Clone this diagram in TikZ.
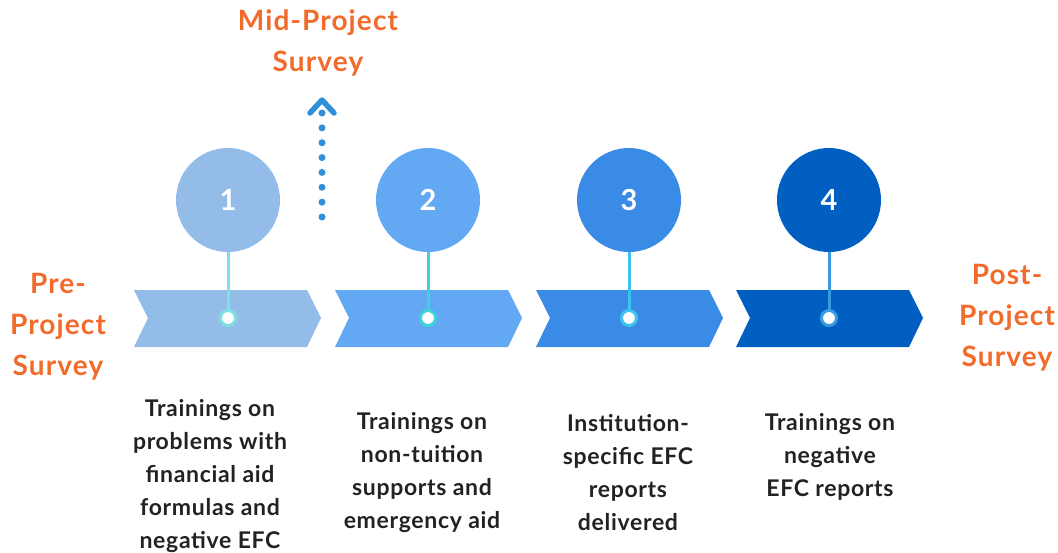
\documentclass[tikz,border=0pt]{standalone}
\usepackage{fontspec}
\setmainfont{Lato}
\usetikzlibrary{calc}
\definecolor{cA}{HTML}{93BCE8}
\definecolor{cB}{HTML}{62A8F3}
\definecolor{cC}{HTML}{398BE6}
\definecolor{cD}{HTML}{025FC2}
\definecolor{sA}{HTML}{7FE0E4}
\definecolor{sB}{HTML}{3DD4D8}
\definecolor{sC}{HTML}{3CC4EE}
\definecolor{sD}{HTML}{3A9BE0}
\definecolor{orangelbl}{HTML}{F26B2A}
\definecolor{midblue}{HTML}{2F8FD9}
\definecolor{txt}{HTML}{222222}
\tikzset{
  numcircle/.style={circle, inner sep=0pt, minimum size=104pt, text=white,
    font=\fontsize{29}{29}\selectfont\bfseries},
  tdot/.style={circle, fill=white, line width=3pt, minimum size=15pt, inner sep=0pt},
  stemline/.style={line width=3pt},
  surveylbl/.style={align=center, text=orangelbl, inner sep=0pt,
    font=\fontsize{28}{41}\selectfont\bfseries\addfontfeature{LetterSpace=4}},
  desc/.style={align=center, text=txt, inner sep=0pt,
    font=\fontsize{23}{33}\selectfont\bfseries\addfontfeature{LetterSpace=3}}
}
\begin{document}
\begin{tikzpicture}[x=1pt,y=-1pt]
\useasboundingbox (0,0) rectangle (1058,552);
% chevrons, circles, stems, dots
\foreach \i/\L/\cx/\col/\stc in {1/134/228/cA/sA, 2/335/428/cB/sB, 3/536/629/cC/sC, 4/736/829/cD/sD}{
  \fill[\col] (\L,290) -- ++(173,0) -- ++(14,28) -- ++(-14,29) -- ++(-173,0) -- ++(14,-29) -- cycle;
  \node[numcircle, fill=\col] (c\i) at (\cx,200) {\i};
  \node[tdot, draw=\stc] (d\i) at (\cx,318) {};
  \draw[stemline, \stc] (c\i.south) -- (d\i.north);
}
% survey labels
\node[surveylbl] (mid) at (318,43) {Mid-Project\\Survey};
\node[surveylbl] (pre) at (58,327) {Pre-\\Project\\Survey};
\node[surveylbl] (post) at (1007,318) {Post-\\Project\\Survey};
% mid-project dotted arrow
\coordinate (abase) at (322,217);
\coordinate (atop) at (322,113);
\coordinate (atip) at (322,100);
\draw[midblue, line width=7pt, line cap=round, dash pattern=on 0pt off 14.857pt] (abase) -- (atop);
\draw[midblue, line width=5.5pt, line cap=round, line join=round]
  ($(atip)+(-12,13)$) -- (atip) -- ($(atip)+(12,13)$);
% descriptions
\node[desc] (t1) at (210,476) {Trainings on\\problems with\\financial aid\\formulas and\\negative EFC};
\node[desc] (t2) at (422,473) {Trainings on\\non-tuition\\supports and\\emergency aid};
\node[desc] (t3) at (628,473) {Institution-\\specific EFC\\reports\\delivered};
\node[desc] (t4) at (830,457) {Trainings on\\negative\\EFC reports};
\end{tikzpicture}
\end{document}
